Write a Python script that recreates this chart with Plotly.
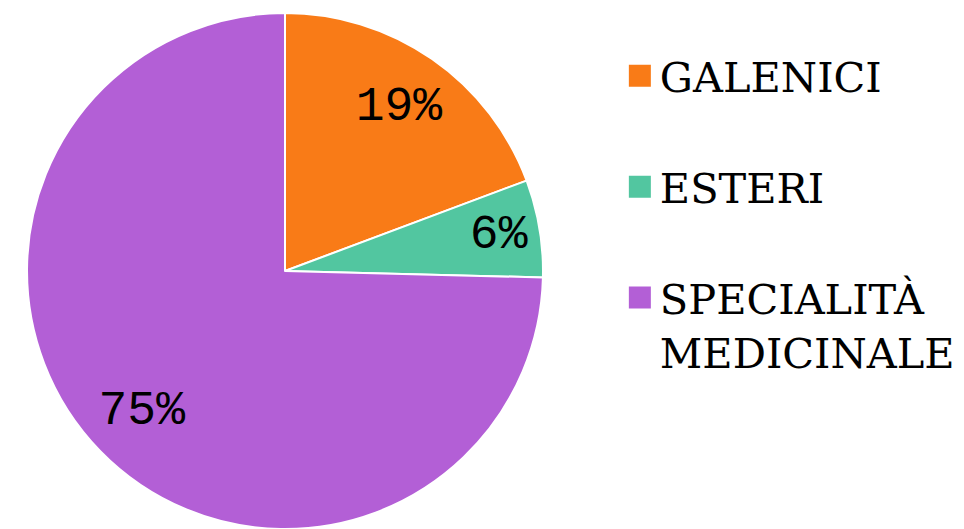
import plotly.graph_objects as go

labels = ["GALENICI<br> ", "ESTERI<br> ", "SPECIALITÀ<br>MEDICINALE"]
values = [19.3, 6.1, 74.6]
colors = ["#F97B17", "#52C6A0", "#B35FD6"]

pie_domain = dict(x=[0.028, 0.5633], y=[0.0, 0.9754])

fig = go.Figure()

# slices with legend
fig.add_trace(go.Pie(
    labels=labels,
    values=values,
    sort=False,
    direction="clockwise",
    rotation=0,
    marker=dict(colors=colors, line=dict(color="white", width=2)),
    textinfo="none",
    domain=pie_domain,
    hoverinfo="label+percent",
))

# transparent ring carrying the percentage labels (places text further out)
fig.add_trace(go.Pie(
    labels=labels,
    values=values,
    sort=False,
    direction="clockwise",
    rotation=0,
    hole=0.55,
    marker=dict(colors=["rgba(0,0,0,0)"] * len(values), line=dict(width=0)),
    textinfo="percent",
    texttemplate="%{percent:.0%}",
    textposition="inside",
    insidetextorientation="horizontal",
    textfont=dict(family="Liberation Mono", size=48, color="black"),
    domain=pie_domain,
    showlegend=False,
    hoverinfo="skip",
))

fig.update_layout(
    width=964, height=529,
    margin=dict(l=0, r=0, t=0, b=0, autoexpand=False),
    paper_bgcolor="white",
    plot_bgcolor="white",
    legend=dict(
        x=0.643, xanchor="left",
        y=0.92, yanchor="top",
        valign="top",
        font=dict(family="DejaVu Serif", size=41.5, color="black"),
        bgcolor="rgba(0,0,0,0)",
    ),
)

post = """
document.body.style.margin = '0';
document.body.style.overflow = 'hidden';
function bigSym(){
  document.querySelectorAll('.legendpoints path.legendpie').forEach(function(p){
    p.setAttribute('d','M12,12H-12V-12H12Z');
  });
}
bigSym();
setTimeout(bigSym, 0);
setTimeout(bigSym, 200);
var gd = document.getElementById('{plot_id}');
if (gd && gd.on) { gd.on('plotly_afterplot', bigSym); }
"""

fig.write_html("out.html", post_script=post, config={"displayModeBar": False})
